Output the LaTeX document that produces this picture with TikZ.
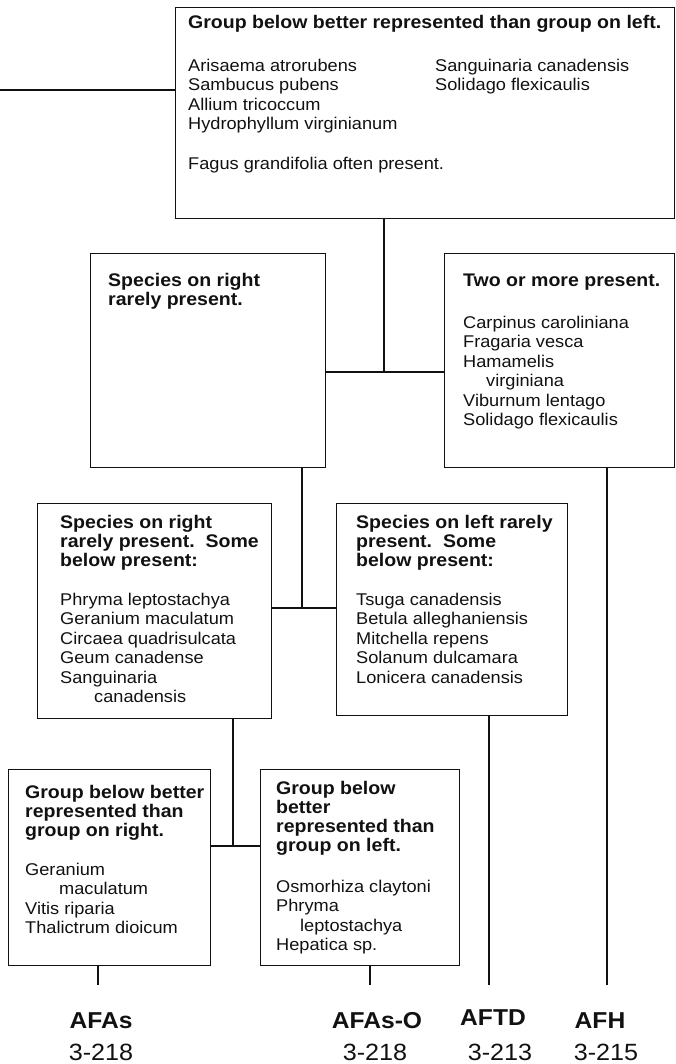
\documentclass[tikz,border=0pt]{standalone}
\usepackage{fontspec}
\setmainfont{Liberation Sans}[FakeStretch=1.07]
\usepackage{tikz}
\usetikzlibrary{positioning}
\definecolor{KeyInk}{HTML}{111111}
\tikzset{
  keybox/.style={draw=KeyInk,line width=1.2pt,rectangle,inner sep=0pt,anchor=north west},
  headtext/.style={anchor=north west,inner sep=0pt,align=left,text=KeyInk,
    font=\fontsize{18.25}{19}\selectfont\bfseries},
  listtext/.style={anchor=north west,inner sep=0pt,align=left,text=KeyInk,
    font=\fontsize{17}{19.5}\selectfont},
  typelabel/.style={inner sep=0pt,text=KeyInk,font=\fontsize{23}{24}\selectfont\bfseries},
  codelabel/.style={inner sep=0pt,text=KeyInk,font=\fontsize{23.5}{24}\selectfont},
  link/.style={draw=KeyInk,line width=1.2pt}
}

\begin{document}
\begin{tikzpicture}[x=1pt,y=-1pt]
  \useasboundingbox (0,0) rectangle (676,1064);

  % boxes
  \node[keybox,minimum width=499pt,minimum height=211pt] (top) at (175,7) {};
  \node[keybox,minimum width=235pt,minimum height=214pt] (rare) at (90,253) {};
  \node[keybox,minimum width=230pt,minimum height=214pt] (two) at (444,253) {};
  \node[keybox,minimum width=234pt,minimum height=215pt] (rightsome) at (37,503) {};
  \node[keybox,minimum width=231pt,minimum height=212pt] (leftsome) at (336,503) {};
  \node[keybox,minimum width=202pt,minimum height=196pt] (betterright) at (8,769) {};
  \node[keybox,minimum width=199pt,minimum height=196pt] (betterleft) at (260,769) {};

  % texts
  \node[headtext] (top-head) at (188,15.4) {Group below better represented than group on left.};
  \node[listtext] (top-list) at (188,58.9) {Arisaema atrorubens\\Sambucus pubens\\Allium tricoccum\\Hydrophyllum virginianum\\[20.5pt]Fagus grandifolia often present.};
  \node[listtext] (top-list2) at (435,58.9) {Sanguinaria canadensis\\Solidago flexicaulis};

  \node[headtext] (rare-head) at (108,273.4) {Species on right\\rarely present.};
  \node[headtext] (two-head) at (463,273.4) {Two or more present.};
  \node[listtext] (two-list) at (463,315.9) {Carpinus caroliniana\\Fragaria vesca\\Hamamelis\\\hspace*{23pt}virginiana\\Viburnum lentago\\Solidago flexicaulis};

  \node[headtext] (rightsome-head) at (60,515.4) {Species on right\\rarely present.\ \ Some\\below present:};
  \node[listtext] (rightsome-list) at (60,592.9) {Phryma leptostachya\\Geranium maculatum\\Circaea quadrisulcata\\Geum canadense\\Sanguinaria\\\hspace*{34pt}canadensis};
  \node[headtext] (leftsome-head) at (356,515.4) {Species on left rarely\\present.\ \ Some\\below present:};
  \node[listtext] (leftsome-list) at (356,592.9) {Tsuga canadensis\\Betula alleghaniensis\\Mitchella repens\\Solanum dulcamara\\Lonicera canadensis};

  \node[headtext] (betterright-head) at (25,785.4) {Group below better\\represented than\\group on right.};
  \node[listtext] (betterright-list) at (25,862.9) {Geranium\\\hspace*{34pt}maculatum\\Vitis riparia\\Thalictrum dioicum};
  \node[headtext] (betterleft-head) at (276,781.4) {Group below\\better\\represented than\\group on left.};
  \node[listtext] (betterleft-list) at (276,879.9) {Osmorhiza claytoni\\Phryma\\\hspace*{24pt}leptostachya\\Hepatica sp.};

  % community types
  \node[typelabel] (afas) at (101,1021) {AFAs};
  \node[typelabel] (afaso) at (377,1021) {AFAs-O};
  \node[typelabel] (aftd) at (493,1018) {AFTD};
  \node[typelabel] (afh) at (600,1021) {AFH};
  \node[codelabel] (afas-code) at (101,1052) {3-218};
  \node[codelabel] (afaso-code) at (375,1052) {3-218};
  \node[codelabel] (aftd-code) at (500,1052) {3-213};
  \node[codelabel] (afh-code) at (606,1052) {3-215};

  % connectors
  \coordinate (entry) at (0,90);
  \coordinate (fork1) at (384,372);
  \coordinate (fork2) at (302,608);
  \coordinate (fork3) at (233,846);
  \coordinate (end-afas) at (98,985);
  \coordinate (end-afaso) at (370,985);
  \coordinate (end-aftd) at (489,985);
  \coordinate (end-afh) at (607,985);

  \draw[link] (entry) -- (entry -| top.west);
  \draw[link] (top.south -| fork1) -- (fork1);
  \draw[link] (rare.east |- fork1) -- (two.west |- fork1);
  \draw[link] (rare.south -| fork2) -- (fork2);
  \draw[link] (rightsome.east |- fork2) -- (leftsome.west |- fork2);
  \draw[link] (rightsome.south -| fork3) -- (fork3);
  \draw[link] (betterright.east |- fork3) -- (betterleft.west |- fork3);
  \draw[link] (betterright.south -| end-afas) -- (end-afas);
  \draw[link] (betterleft.south -| end-afaso) -- (end-afaso);
  \draw[link] (leftsome.south -| end-aftd) -- (end-aftd);
  \draw[link] (two.south -| end-afh) -- (end-afh);
\end{tikzpicture}
\end{document}
